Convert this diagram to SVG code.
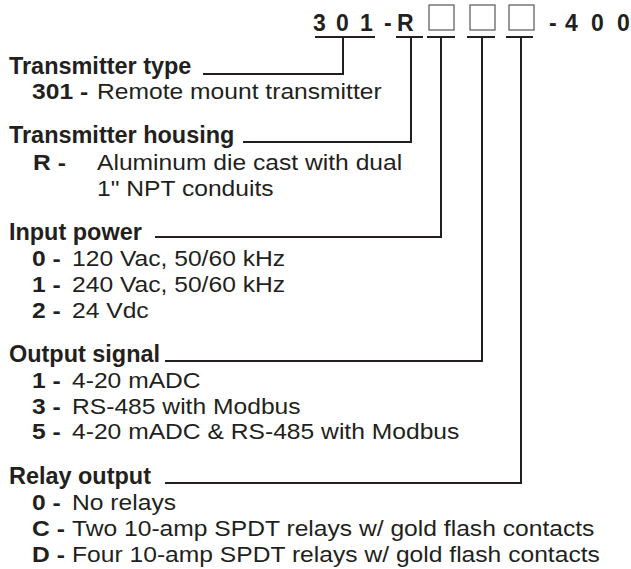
<svg xmlns="http://www.w3.org/2000/svg" width="631" height="569" viewBox="0 0 631 569">
<style>
text{font-family:"Liberation Sans",Arial,Helvetica,sans-serif;fill:#231f20}
.hd{font-size:23px;font-weight:bold}
.tt{font-size:23px;font-weight:bold}
.bd{font-size:22px}
.b{font-weight:bold}
.ln{fill:none;stroke:#231f20;stroke-width:2;stroke-linejoin:miter}
.box{fill:#fff;stroke:#555;stroke-width:1.2}
</style>
<rect width="631" height="569" fill="#fff"/>
<g id="model-code">
<text class="hd" x="313 336 360" y="31">301</text>
<text class="hd" x="384" y="31">-</text>
<text class="hd" x="397" y="31">R</text>
<rect class="box" x="429" y="5" width="25" height="25"/>
<rect class="box" x="470" y="5" width="25" height="25"/>
<rect class="box" x="509" y="5" width="25" height="25"/>
<text class="hd" x="549 565 591 617" y="31">-400</text>
</g>
<g id="connectors">
<path class="ln" d="M315 37H375M343 37V74H203"/>
<path class="ln" d="M396 37H423M411 37V142H243"/>
<path class="ln" d="M427 37H455M441 37V237H155"/>
<path class="ln" d="M467 37H495M482 37V361H165"/>
<path class="ln" d="M506 37H533M521 37V483H165"/>
</g>
<g id="transmitter-type">
<text class="tt" transform="scale(1.02 1)" x="8.8" y="74">Transmitter type</text>
<g transform="scale(1.12 1)"><text class="bd" x="28.6" y="99"><tspan class="b">301 -</tspan><tspan x="86.6">Remote mount transmitter</tspan></text></g>
</g>
<g id="transmitter-housing">
<text class="tt" transform="scale(1.02 1)" x="8.8" y="143">Transmitter housing</text>
<g transform="scale(1.12 1)">
<text class="bd" x="29.5" y="170"><tspan class="b">R -</tspan><tspan x="86.6">Aluminum die cast with dual</tspan></text>
<text class="bd" x="86.6" y="196">1" NPT conduits</text>
</g>
</g>
<g id="input-power">
<text class="tt" transform="scale(1.02 1)" x="8.8" y="240">Input power</text>
<g transform="scale(1.12 1)">
<text class="bd" x="28.6" y="266"><tspan class="b">0 -</tspan><tspan x="64.3">120 Vac, 50/60 kHz</tspan></text>
<text class="bd" x="28.6" y="292"><tspan class="b">1 -</tspan><tspan x="64.3">240 Vac, 50/60 kHz</tspan></text>
<text class="bd" x="28.6" y="318"><tspan class="b">2 -</tspan><tspan x="64.3">24 Vdc</tspan></text>
</g>
</g>
<g id="output-signal">
<text class="tt" transform="scale(1.02 1)" x="8.8" y="362">Output signal</text>
<g transform="scale(1.12 1)">
<text class="bd" x="28.6" y="388"><tspan class="b">1 -</tspan><tspan x="64.3">4-20 mADC</tspan></text>
<text class="bd" x="28.6" y="414"><tspan class="b">3 -</tspan><tspan x="64.3">RS-485 with Modbus</tspan></text>
<text class="bd" x="28.6" y="439"><tspan class="b">5 -</tspan><tspan x="64.3">4-20 mADC &amp; RS-485 with Modbus</tspan></text>
</g>
</g>
<g id="relay-output">
<text class="tt" transform="scale(1.02 1)" x="8.8" y="484">Relay output</text>
<g transform="scale(1.12 1)">
<text class="bd" x="28.6" y="510"><tspan class="b">0 -</tspan><tspan x="64.3">No relays</tspan></text>
<text class="bd" x="28.6" y="536"><tspan class="b">C -</tspan><tspan x="64.3">Two 10-amp SPDT relays w/ gold flash contacts</tspan></text>
<text class="bd" x="28.6" y="562"><tspan class="b">D -</tspan><tspan x="64.3">Four 10-amp SPDT relays w/ gold flash contacts</tspan></text>
</g>
</g>
</svg>
